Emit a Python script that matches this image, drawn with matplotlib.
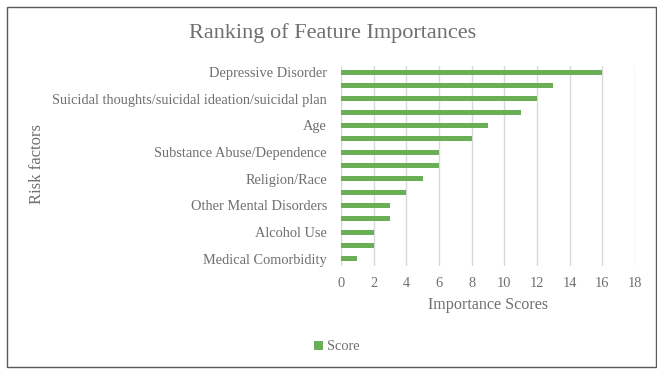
import matplotlib.pyplot as plt
from matplotlib.patches import Rectangle

plt.rcParams['font.family'] = ['Liberation Serif', 'DejaVu Serif']

# risk factors, highest score first (only every other name is shown on the axis)
factors = [
    "Depressive Disorder", "",
    "Suicidal thoughts/suicidal ideation/suicidal plan", "",
    "Age", "",
    "Substance Abuse/Dependence", "",
    "Religion/Race", "",
    "Other Mental Disorders", "",
    "Alcohol Use", "",
    "Medical Comorbidity",
]
scores = [16, 13, 12, 11, 9, 8, 6, 6, 5, 4, 3, 3, 2, 2, 1]
xticks = [0, 2, 4, 6, 8, 10, 12, 14, 16, 18]

green = "#6aaf55"
text_grey = "#6f6f6f"

fig = plt.figure(figsize=(6.57, 3.69), dpi=100)
W, H = 657, 369
ax = fig.add_axes([341 / W, 1 - 265.5 / H, (635 - 341) / W, 200 / H])

pos = list(range(len(scores)))[::-1]
ax.barh(pos, scores, height=0.38, color=green, label="Score", zorder=3)

ax.set_xlim(0, 18)
ax.set_ylim(-0.5, len(scores) - 0.5)
ax.set_xticks(xticks)
ax.set_yticks(pos)
ax.set_yticklabels(factors)
ax.tick_params(length=0, labelsize=10.4, colors=text_grey)
ax.tick_params(axis='x', pad=8)
ax.tick_params(axis='y', pad=10)
ax.grid(axis='x', color="#d9d9d9", linewidth=1, zorder=0)
for s in ax.spines.values():
    s.set_visible(False)

ax.set_xlabel("Importance Scores", fontsize=11.6, color=text_grey, labelpad=5)
fig.text(37 / W, 1 - 164 / H, "Risk factors", rotation=90, fontsize=12,
         color=text_grey, ha='center', va='center')
fig.text(333 / W, 1 - 33 / H, "Ranking of Feature Importances", fontsize=16,
         color=text_grey, ha='center', va='center')

fig.legend(loc='center', bbox_to_anchor=(337 / W, 1 - 347 / H), frameon=False,
           fontsize=10.4, handlelength=0.6, handleheight=0.6, handletextpad=0.3,
           labelcolor=text_grey)

fig.patches.append(Rectangle((7 / W, 1 - 367 / H), 649 / W, 360 / H,
                             transform=fig.transFigure, fill=False,
                             edgecolor="#595959", linewidth=1))

fig.savefig("out.png", dpi=100)
